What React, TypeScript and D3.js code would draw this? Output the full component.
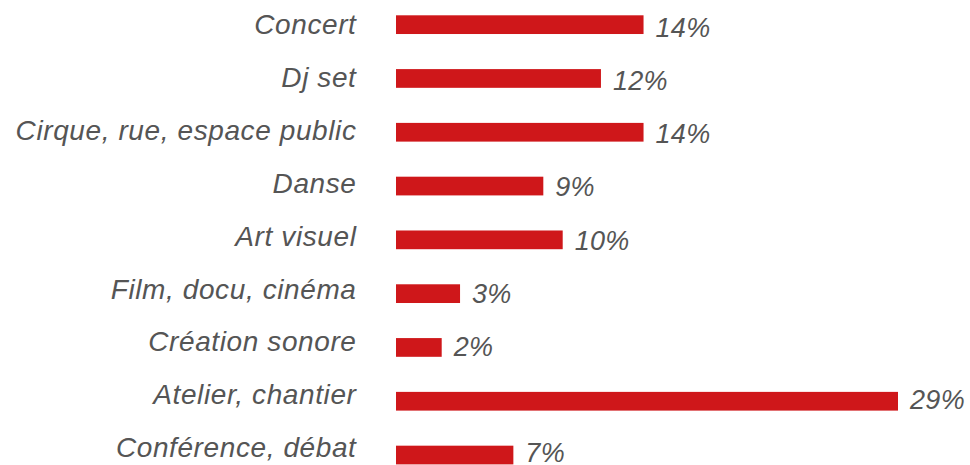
import { useEffect, useRef } from "react";
import * as d3 from "d3";

const WIDTH = 970;
const HEIGHT = 465;

// categories, top to bottom
const categories = [
  "Concert",
  "Dj set",
  "Cirque, rue, espace public",
  "Danse",
  "Art visuel",
  "Film, docu, cinéma",
  "Création sonore",
  "Atelier, chantier",
  "Conférence, débat",
];

// share of each category (%)
const shares = [14.3, 11.84, 14.3, 8.51, 9.63, 3.7, 2.64, 29, 6.78];

// labels printed next to the bars
const shareLabels = ["14%", "12%", "14%", "9%", "10%", "3%", "2%", "29%", "7%"];

const BAR_COLOR = "#cf171a";
const TEXT_COLOR = "#555555";
const FONT = "'Liberation Sans', Arial, Helvetica, sans-serif";

type Row = { name: string; value: number; label: string };

const rows: Row[] = categories.map((name, i) => ({
  name,
  value: shares[i],
  label: shareLabels[i],
}));

export default function App() {
  const svgRef = useRef<SVGSVGElement | null>(null);

  useEffect(() => {
    if (!svgRef.current) return;
    const svg = d3.select(svgRef.current);
    svg.selectAll("*").remove();

    const x = d3.scaleLinear().domain([0, 29]).range([396, 898]);

    // bar rows
    const y = d3
      .scaleBand()
      .domain(categories)
      .range([15.3, 464.4])
      .paddingInner(0.652)
      .paddingOuter(0);

    // text baselines sit on slightly different row spacing than the bars
    const yCat = d3.scalePoint().domain(categories).range([34, 457.3]);
    const yVal = d3.scalePoint().domain(categories).range([37.3, 461.7]);

    // bars
    svg
      .selectAll("rect.bar")
      .data(rows)
      .enter()
      .append("rect")
      .attr("class", "bar")
      .attr("x", x(0))
      .attr("y", (d: Row) => y(d.name) ?? 0)
      .attr("width", (d: Row) => x(d.value) - x(0))
      .attr("height", y.bandwidth())
      .attr("fill", BAR_COLOR);

    // category labels on the left
    svg
      .selectAll("text.cat")
      .data(rows)
      .enter()
      .append("text")
      .attr("class", "cat")
      .attr("x", 356.5)
      .attr("y", (d: Row) => yCat(d.name) ?? 0)
      .attr("text-anchor", "end")
      .attr("fill", TEXT_COLOR)
      .style("font-family", FONT)
      .style("font-style", "italic")
      .style("font-size", "28px")
      .style("letter-spacing", "0.6px")
      .text((d: Row) => d.name);

    // value labels after each bar
    svg
      .selectAll("text.val")
      .data(rows)
      .enter()
      .append("text")
      .attr("class", "val")
      .attr("x", (d: Row) => x(d.value) + 12)
      .attr("y", (d: Row) => yVal(d.name) ?? 0)
      .attr("fill", TEXT_COLOR)
      .style("font-family", FONT)
      .style("font-style", "italic")
      .style("font-size", "27px")
      .style("letter-spacing", "0.3px")
      .text((d: Row) => d.label);
  }, []);

  return (
    <svg
      ref={svgRef}
      width={WIDTH}
      height={HEIGHT}
      style={{ position: "absolute", left: 0, top: 0, background: "#ffffff" }}
    />
  );
}
